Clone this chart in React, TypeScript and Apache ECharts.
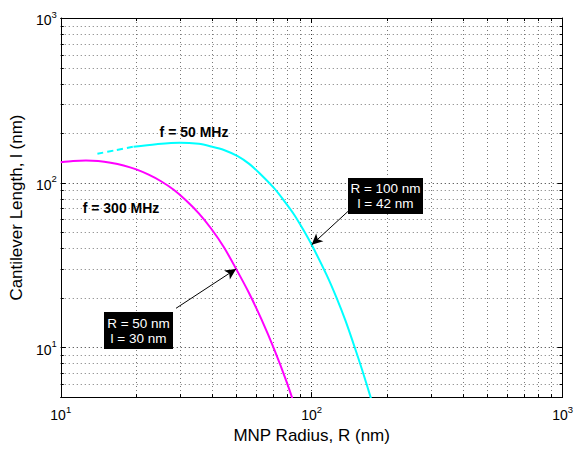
import React, { useEffect, useRef } from "react";
import * as echarts from "echarts";

// ---------- data ----------
const radius300 = [10, 11.2, 12.6, 14.1, 15.8, 17.8, 20, 22.4, 25.1, 28.2, 31.6, 35.5, 39.8, 44.7, 50, 56.2, 63.1, 70.8, 79.4, 89.1];
const length300 = [133, 135.5, 136.5, 135.5, 132.4, 127.4, 120.5, 111.9, 102.1, 90.6, 78, 65.2, 52.6, 40.6, 30, 21.5, 14.8, 9.8, 6.2, 3.7];

const radius50Dashed = [14, 16.5, 19.5];
const length50Dashed = [150, 157.5, 165.5];

const radius50 = [19.5, 24, 29.8, 35.5, 39.8, 44.7, 50.7, 56.2, 61.7, 70.7, 77, 84.8, 92, 100, 114.8, 125.7, 136.5, 148.5, 158.5, 171.7, 182];
const length50 = [165.5, 171.4, 175, 172.2, 166, 158.1, 145, 130.6, 115, 93, 79, 64.6, 52.7, 42, 27.5, 20, 14.5, 10, 7.4, 5, 3.75];

const xRange = [10, 1000];
const yRange = [5, 1000];

// callouts: arrow tip (data) and arrow tail (data)
const callout50Tip = [50, 30];
const callout50Tail = [28.8, 17.3];
const callout100Tip = [100, 42];
const callout100Tail = [140.6, 67.7];
const callout50Text = "R = 50 nm\nl = 30 nm";
const callout100Text = "R = 100 nm\nl = 42 nm";
const label50 = "f = 50 MHz";
const label300 = "f = 300 MHz";

const xTitle = "MNP Radius, R (nm)";
const yTitle = "Cantilever Length, l (nm)";

const FONT = "'Liberation Sans', Arial, Helvetica, sans-serif";

const zip = (a: number[], b: number[]) => a.map((v, i) => [v, b[i]]);

function minorValues(lo: number, hi: number): number[] {
  const out: number[] = [];
  for (let d = 1; d <= 1000; d *= 10) {
    for (let k = 2; k <= 9; k++) {
      const v = k * d;
      if (v > lo && v < hi) out.push(v);
    }
  }
  return out;
}

const powLabel = (v: number) => {
  const e = Math.log10(v);
  const r = Math.round(e);
  if (Math.abs(e - r) > 1e-6) return "";
  return `{b|10}{s|${r}}`;
};

const labelRich = {
  b: { fontSize: 14, lineHeight: 18, verticalAlign: "bottom", fontFamily: FONT, color: "#000" },
  s: { fontSize: 9.5, lineHeight: 10, verticalAlign: "top", fontFamily: FONT, color: "#000" },
};

export default function App() {
  const ref = useRef<HTMLDivElement>(null);

  useEffect(() => {
    if (!ref.current) return;
    const chart = echarts.init(ref.current, undefined, { renderer: "svg" });

    const gridData: number[][] = [
      ...minorValues(xRange[0], xRange[1]).map((v) => [v, 100, 0]),
      ...minorValues(yRange[0], yRange[1]).map((v) => [100, v, 1]),
    ];

    const baseX = {
      type: "log" as const,
      logBase: 10,
      min: xRange[0],
      max: xRange[1],
      axisLine: { show: true, lineStyle: { color: "#000", width: 1 } },
      axisTick: { show: true, inside: true, length: 5, lineStyle: { color: "#000" } },
    };
    const baseY = {
      type: "log" as const,
      logBase: 10,
      min: yRange[0],
      max: yRange[1],
      axisLine: { show: true, lineStyle: { color: "#000", width: 1 } },
      axisTick: { show: true, inside: true, length: 5, lineStyle: { color: "#000" } },
    };

    const curveCommon = {
      type: "line",
      z: 3,
      showSymbol: false,
      smooth: 0.3,
      clip: true,
    };

    const option: any = {
      animation: false,
      backgroundColor: "#fff",
      grid: { left: 58, right: 11, top: 18, bottom: 47, containLabel: false },
      xAxis: [
        {
          ...baseX,
          position: "bottom",
          name: xTitle,
          nameLocation: "middle",
          nameGap: 25,
          nameTextStyle: { fontSize: 17, color: "#000", fontFamily: FONT },
          axisLabel: { formatter: powLabel, rich: labelRich, margin: 7 },
          splitLine: { show: true, lineStyle: { color: "#333", type: [1, 3], width: 1 } },
        },
        {
          ...baseX,
          position: "top",
          axisLabel: { show: false },
          splitLine: { show: false },
        },
      ],
      yAxis: [
        {
          ...baseY,
          position: "left",
          name: yTitle,
          nameLocation: "middle",
          nameGap: 31,
          nameTextStyle: { fontSize: 17, color: "#000", fontFamily: FONT },
          axisLabel: { formatter: powLabel, rich: labelRich, margin: 4 },
          splitLine: { show: true, lineStyle: { color: "#333", type: [1, 3], width: 1 } },
        },
        {
          ...baseY,
          position: "right",
          axisLabel: { show: false },
          splitLine: { show: false },
        },
      ],
      series: [
        {
          type: "custom",
          name: "minor grid",
          silent: true,
          z: 1,
          xAxisIndex: 0,
          yAxisIndex: 0,
          data: gridData,
          encode: { x: 0, y: 1 },
          renderItem: (params: any, api: any) => {
            const cs = params.coordSys;
            const dir = api.value(2);
            const children: any[] = [];
            const tick = { stroke: "#000", lineWidth: 1 };
            const grid = { stroke: "#777", lineWidth: 1, lineDash: [1, 3] };
            if (dir === 0) {
              const px = Math.round(api.coord([api.value(0), 100])[0]) + 0.5;
              children.push({ type: "line", shape: { x1: px, y1: cs.y, x2: px, y2: cs.y + cs.height }, style: grid });
              children.push({ type: "line", shape: { x1: px, y1: cs.y + cs.height, x2: px, y2: cs.y + cs.height - 3 }, style: tick });
              children.push({ type: "line", shape: { x1: px, y1: cs.y, x2: px, y2: cs.y + 3 }, style: tick });
            } else {
              const py = Math.round(api.coord([100, api.value(1)])[1]) + 0.5;
              children.push({ type: "line", shape: { x1: cs.x, y1: py, x2: cs.x + cs.width, y2: py }, style: grid });
              children.push({ type: "line", shape: { x1: cs.x, y1: py, x2: cs.x + 3, y2: py }, style: tick });
              children.push({ type: "line", shape: { x1: cs.x + cs.width, y1: py, x2: cs.x + cs.width - 3, y2: py }, style: tick });
            }
            return { type: "group", children };
          },
        },
        {
          ...curveCommon,
          name: label300,
          data: zip(radius300, length300),
          lineStyle: { color: "#FF00FF", width: 2 },
          itemStyle: { color: "#FF00FF" },
          markLine: {
            silent: true,
            symbol: ["none", "arrow"],
            symbolSize: [8, 11],
            label: { show: false },
            lineStyle: { color: "#000", width: 1, type: "solid" },
            data: [[{ coord: callout50Tail }, { coord: callout50Tip }]],
          },
        },
        {
          ...curveCommon,
          name: label50,
          data: zip(radius50, length50),
          lineStyle: { color: "#00FFFF", width: 2 },
          itemStyle: { color: "#00FFFF" },
          markLine: {
            silent: true,
            symbol: ["none", "arrow"],
            symbolSize: [8, 11],
            label: { show: false },
            lineStyle: { color: "#000", width: 1, type: "solid" },
            data: [[{ coord: callout100Tail }, { coord: callout100Tip }]],
          },
        },
        {
          ...curveCommon,
          name: label50 + " (dashed)",
          data: zip(radius50Dashed, length50Dashed),
          lineStyle: { color: "#00FFFF", width: 2, type: [6, 4] },
          itemStyle: { color: "#00FFFF" },
        },
      ],
      graphic: [
        {
          type: "text",
          z: 100,
          x: 194,
          y: 132,
          style: { text: label50, fill: "#000", font: `bold 14px ${FONT}`, align: "center", verticalAlign: "middle" },
        },
        {
          type: "text",
          z: 100,
          x: 121,
          y: 208,
          style: { text: label300, fill: "#000", font: `bold 14px ${FONT}`, align: "center", verticalAlign: "middle" },
        },
        {
          type: "rect",
          z: 100,
          shape: { x: 104, y: 312, width: 69, height: 37 },
          style: { fill: "#000" },
        },
        {
          type: "text",
          z: 101,
          x: 138.5,
          y: 330.5,
          style: {
            text: callout50Text,
            fill: "#fff",
            font: `13.5px ${FONT}`,
            align: "center",
            verticalAlign: "middle",
            lineHeight: 15,
          },
        },
        {
          type: "rect",
          z: 100,
          shape: { x: 348, y: 178, width: 75, height: 36 },
          style: { fill: "#000" },
        },
        {
          type: "text",
          z: 101,
          x: 385.5,
          y: 196,
          style: {
            text: callout100Text,
            fill: "#fff",
            font: `13.5px ${FONT}`,
            align: "center",
            verticalAlign: "middle",
            lineHeight: 15,
          },
        },
      ],
    };

    chart.setOption(option);
    return () => chart.dispose();
  }, []);

  return (
    <div
      ref={ref}
      style={{ position: "fixed", left: 0, top: 0, width: 576, height: 449, background: "#fff" }}
    />
  );
}
